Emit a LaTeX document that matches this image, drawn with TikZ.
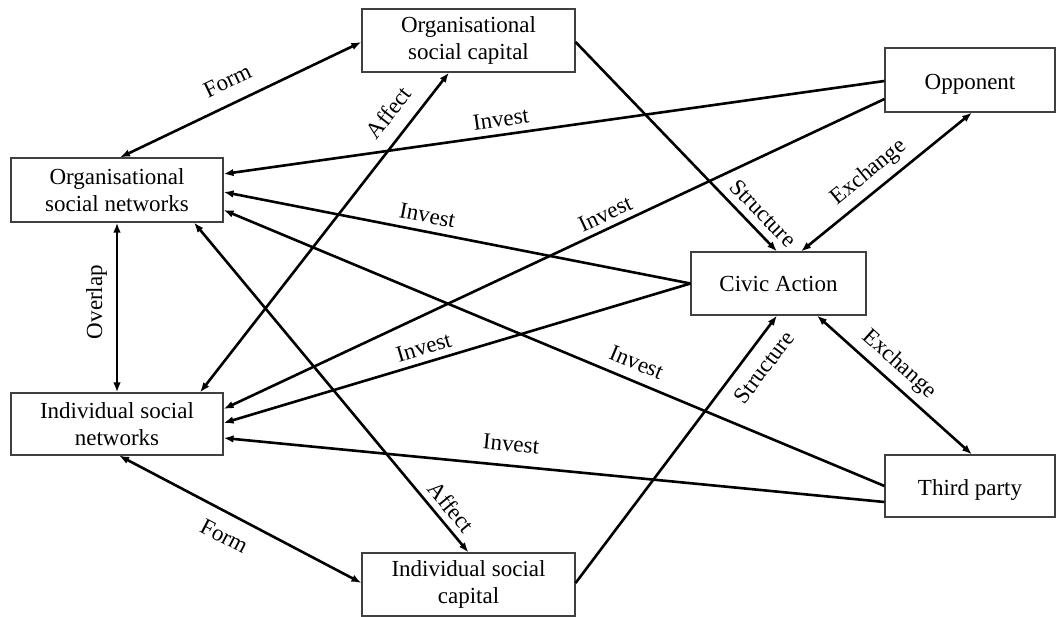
\documentclass[tikz,border=0pt]{standalone}
\usepackage{fontspec}
\setmainfont{Liberation Serif}
\usetikzlibrary{arrows.meta}

\begin{document}
\begin{tikzpicture}[x=1pt, y=-1pt,
  >={Latex[length=10pt,width=7.5pt]},
  box/.style={draw=black!75, line width=1.1pt, inner sep=0pt, align=center,
    font=\fontsize{23}{27.7}\selectfont},
  link/.style={line width=2.6pt},
  lbl/.style={font=\fontsize{23}{27.7}\selectfont, inner sep=0pt,
    text height=15pt, text depth=5pt, sloped}
]
\fill[white] (0,0) rectangle (1056,617);
\useasboundingbox (0,0) rectangle (1056,617);

% actors and resources
\node[box, minimum width=213pt, minimum height=63pt] (osc) at (468.5,40.5) {Organisational\\social capital};
\node[box, minimum width=170pt, minimum height=64pt, text height=20pt, text depth=0pt] (opp) at (970,80) {Opponent};
\node[box, minimum width=212pt, minimum height=64pt] (osn) at (117,190) {Organisational\\social networks};
\node[box, minimum width=175pt, minimum height=63pt, text height=16.4pt, text depth=0pt] (civ) at (778.5,283.5) {Civic Action};
\node[box, minimum width=212pt, minimum height=62pt] (isn) at (117,424) {Individual social\\networks};
\node[box, minimum width=170pt, minimum height=62pt, text height=18pt, text depth=0pt] (thp) at (970,486) {Third party};
\node[box, minimum width=213pt, minimum height=63pt] (isc) at (468.5,584.5) {Individual social\\capital};

% relations
\draw[link,<->] ([xshift=3pt]osn.north) -- node[lbl,pos=0.485,above=9pt] (l1) {Form} ([yshift=-1.5pt]osc.west);
\draw[link,<->] ([xshift=83pt]isn.north) -- node[lbl,pos=0.831,above=9pt] (l2) {Affect} ([xshift=-19.5pt]osc.south);
\draw[link,<-] ([yshift=16pt]osn.east) -- node[lbl,pos=0.423,above=2pt] (l3) {Invest} ([yshift=-1pt]opp.west);
\draw[link,<-] ([yshift=-2pt]osn.east) -- node[lbl,pos=0.43,above=2.5pt] (l4) {Invest} (civ.west);
\draw[link,<->] (isn.north) -- node[lbl,pos=0.532,above=8.5pt] (l5) {Overlap} (osn.south);
\draw[link,<->] ([xshift=77pt]osn.south) -- node[lbl,pos=0.893,above=1.5pt] (l6) {Affect} (isc.north);
\draw[link,<-] ([yshift=-20pt]osn.east) -- node[lbl,pos=0.614,above=5pt] (l7) {Invest} (thp.west);
\draw[link,<-] ([yshift=15pt]isn.east) -- node[lbl,pos=0.587,above=1pt] (l8) {Invest} ([yshift=-19pt]opp.west);
\draw[link,<-] ([yshift=1pt]isn.east) -- node[lbl,pos=0.438,above=1.5pt] (l9) {Invest} (civ.west);
\draw[link,<-] ([yshift=-14pt]isn.east) -- node[lbl,pos=0.432,above=8pt] (l10) {Invest} ([yshift=-16pt]thp.west);
\draw[link,<->] ([xshift=2pt]isn.south) -- node[lbl,pos=0.477,below=13.5pt] (l11) {Form} ([yshift=1.5pt]isc.west);
\draw[link,->] ([yshift=-1.5pt]osc.east) -- node[lbl,pos=0.873,above=3pt] (l12) {Structure} ([xshift=-1.5pt]civ.north);
\draw[link,<->] ([xshift=22.5pt]civ.north) -- node[lbl,pos=0.465,above=6.5pt] (l13) {Exchange} ([xshift=2pt]opp.south);
\draw[link,->] ([yshift=1.5pt]isc.east) -- node[lbl,pos=0.854,below=12pt] (l14) {Structure} ([xshift=-1.5pt]civ.south);
\draw[link,<->] ([xshift=38.5pt]civ.south) -- node[lbl,pos=0.451,above=6.5pt] (l15) {Exchange} ([xshift=2pt]thp.north);
\end{tikzpicture}
\end{document}
